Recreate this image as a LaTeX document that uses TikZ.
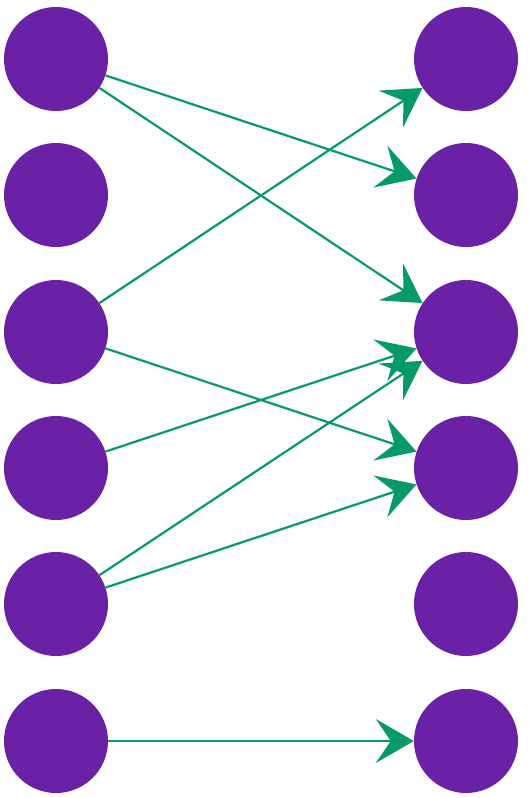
\documentclass[tikz,border=0pt]{standalone}
\usetikzlibrary{arrows.meta}
\definecolor{nodepurple}{HTML}{6A21A6}
\definecolor{edgegreen}{HTML}{079A69}
\begin{document}
\begin{tikzpicture}[x=1pt,y=-1pt,
  vertex/.style={circle,fill=nodepurple,draw=none,minimum size=104pt,inner sep=0pt},
  edge/.style={draw=edgegreen,line width=2.2pt,-{Stealth[length=38pt,width=44pt,inset=15pt]}}]
\useasboundingbox (0,0) rectangle (530,798);
\foreach \i/\y in {1/59,2/195,3/332,4/468,5/604,6/741}{
  \node[vertex] (L\i) at (56,\y) {};
  \node[vertex] (R\i) at (466,\y) {};
}
\draw[edge] (L1) -- (R2);
\draw[edge] (L1) -- (R3);
\draw[edge] (L3) -- (R1);
\draw[edge] (L3) -- (R4);
\draw[edge] (L4) -- (R3);
\draw[edge] (L5) -- (R3);
\draw[edge] (L5) -- (R4);
\draw[edge] (L6) -- (R6);
\end{tikzpicture}
\end{document}
